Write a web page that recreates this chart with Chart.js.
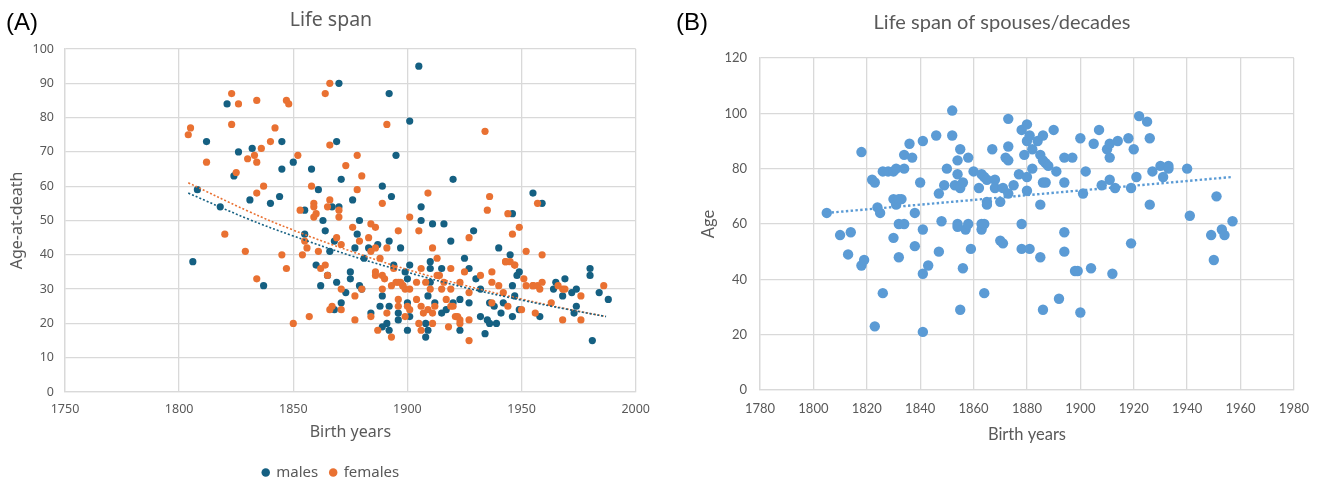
<!DOCTYPE html>
<html>
<head>
<meta charset="utf-8">
<script src="https://cdn.jsdelivr.net/npm/chart.js@4.4.0/dist/chart.umd.min.js"></script>
<style>
  body { margin: 0; background: #fff; }
  .panel { position: absolute; top: 0; width: 660px; height: 481px; }
  .tag { position: absolute; top: 8px; font-size: 24px; color: #000; font-family: "Liberation Sans", Arial, sans-serif; }
</style>
</head>
<body>
<div class="panel" style="left:0">
  <canvas id="lifeSpanChart" width="660" height="481"></canvas>
  <div class="tag" style="left:6px">(A)</div>
</div>
<div class="panel" style="left:660px">
  <canvas id="spousesChart" width="660" height="481"></canvas>
  <div class="tag" style="left:16px">(B)</div>
</div>
<script>
// panel A - birth year / age at death
const maleYears = [1808, 1806, 1812, 1818, 1821, 1824, 1826, 1831, 1832, 1837, 1840, 1844, 1845, 1845, 1850,
  1855, 1855, 1858, 1861, 1860, 1863, 1864, 1862, 1865, 1866, 1867, 1868, 1869, 1870, 1869, 1870, 1871, 1871,
  1873, 1868, 1875, 1875, 1876, 1877, 1878, 1879, 1879, 1881, 1880, 1883, 1884, 1887, 1889, 1889, 1892, 1892,
  1893, 1895, 1897, 1888, 1889, 1891, 1892, 1892, 1894, 1896, 1896, 1899, 1900, 1900, 1901, 1901, 1900, 1901,
  1905, 1906, 1906, 1908, 1908, 1909, 1909, 1910, 1910, 1910, 1911, 1912, 1915, 1916, 1915, 1917, 1919, 1920,
  1920, 1923, 1923, 1925, 1927, 1927, 1929, 1930, 1932, 1932, 1934, 1935, 1936, 1936, 1938, 1939, 1940, 1941,
  1942, 1945, 1946, 1946, 1946, 1947, 1948, 1949, 1949, 1955, 1958, 1959, 1964, 1965, 1968, 1969, 1972, 1973,
  1974, 1974, 1980, 1980, 1981, 1984, 1988];
const maleAges = [59, 38, 73, 54, 84, 63, 70, 56, 71, 31, 55, 57, 73, 65, 67,
  53, 46, 65, 59, 37, 50, 47, 31, 34, 41, 54, 44, 73, 90, 32, 54, 62, 26,
  29, 24, 35, 33, 56, 42, 46, 50, 31, 39, 30, 42, 23, 43, 60, 28, 87, 44,
  57, 69, 42, 25, 19, 20, 18, 25, 37, 23, 21, 35, 26, 33, 79, 37, 18, 22,
  95, 54, 50, 20, 16, 18, 28, 38, 36, 32, 49, 26, 36, 49, 23, 24, 44, 62,
  26, 27, 18, 39, 36, 26, 47, 33, 22, 30, 17, 21, 20, 26, 25, 20, 42, 23,
  26, 40, 52, 31, 22, 28, 34, 35, 24, 58, 22, 55, 30, 32, 28, 33, 29, 23,
  30, 25, 36, 34, 15, 29, 27];

const femaleYears = [1804, 1805, 1812, 1820, 1823, 1823, 1825, 1826, 1829, 1830, 1833, 1834, 1834, 1834, 1834,
  1836, 1837, 1840, 1842, 1845, 1847, 1848, 1847, 1850, 1852, 1853, 1855, 1856, 1854, 1857, 1858, 1859, 1859,
  1859, 1860, 1861, 1862, 1864, 1864, 1865, 1866, 1866, 1866, 1865, 1866, 1867, 1869, 1870, 1870, 1871, 1871,
  1871, 1873, 1876, 1877, 1877, 1878, 1878, 1879, 1880, 1880, 1883, 1884, 1884, 1884, 1886, 1886, 1886, 1887,
  1888, 1889, 1889, 1891, 1891, 1890, 1891, 1893, 1893, 1894, 1895, 1896, 1896, 1897, 1898, 1899, 1896, 1896,
  1899, 1900, 1901, 1901, 1901, 1904, 1904, 1905, 1906, 1905, 1906, 1906, 1907, 1908, 1909, 1909, 1910, 1911,
  1911, 1911, 1913, 1913, 1912, 1915, 1916, 1917, 1918, 1919, 1919, 1919, 1920, 1921, 1922, 1923, 1923, 1923,
  1925, 1927, 1927, 1927, 1927, 1932, 1934, 1935, 1936, 1937, 1937, 1937, 1940, 1942, 1943, 1944, 1944, 1945,
  1946, 1947, 1949, 1950, 1951, 1952, 1952, 1955, 1956, 1957, 1957, 1958, 1959, 1959, 1963, 1966, 1968, 1968,
  1969, 1976, 1976, 1986, 1886, 1889, 1943, 1947, 1955, 1898, 1914];
const femaleAges = [75, 77, 67, 46, 87, 78, 64, 84, 41, 68, 69, 85, 67, 58, 33,
  71, 60, 73, 77, 40, 85, 84, 36, 20, 69, 53, 44, 42, 40, 22, 60, 55, 54,
  51, 52, 41, 36, 87, 37, 34, 90, 72, 56, 54, 24, 25, 45, 53, 51, 30, 43,
  24, 66, 48, 28, 21, 69, 59, 44, 63, 30, 45, 49, 41, 22, 42, 48, 35, 18,
  39, 30, 55, 78, 42, 33, 23, 16, 31, 36, 32, 47, 32, 32, 31, 30, 25, 27,
  22, 25, 51, 30, 24, 32, 27, 47, 36, 20, 18, 25, 23, 32, 58, 24, 30, 20,
  42, 23, 39, 34, 25, 30, 32, 27, 19, 36, 30, 25, 25, 22, 22, 20, 32, 21,
  35, 29, 21, 15, 45, 34, 76, 53, 57, 35, 32, 26, 31, 29, 38, 25, 52, 38,
  46, 37, 48, 24, 33, 41, 31, 31, 23, 55, 31, 30, 40, 32, 26, 31, 21, 30,
  30, 21, 28, 31, 34, 34, 38, 37, 31, 31, 34];

// dotted trendlines
const trendYears = [1804, 1830, 1850, 1875, 1900, 1925, 1950, 1970, 1987];
const maleTrend = [58, 50.5, 45.5, 39.8, 34.9, 30.5, 26.8, 24.1, 22];
const femaleTrend = [61, 52.8, 47.2, 41.1, 35.7, 31.1, 27.1, 24.2, 22];

// panel B - spouses
const spouseYears = [1805, 1810, 1814, 1813, 1818, 1818, 1819, 1822, 1823, 1823, 1824, 1825, 1826, 1826, 1828,
  1830, 1831, 1830, 1831, 1832, 1833, 1830, 1832, 1834, 1832, 1834, 1834, 1836, 1837, 1838, 1838, 1840, 1841,
  1841, 1841, 1841, 1843, 1846, 1847, 1847, 1848, 1849, 1850, 1852, 1852, 1853, 1854, 1854, 1854, 1854, 1855,
  1855, 1855, 1856, 1856, 1857, 1858, 1858, 1859, 1860, 1862, 1863, 1863, 1863, 1864, 1864, 1864, 1865, 1865,
  1865, 1867, 1868, 1868, 1870, 1870, 1871, 1871, 1872, 1873, 1873, 1873, 1873, 1875, 1877, 1878, 1878, 1878,
  1879, 1880, 1880, 1880, 1880, 1881, 1881, 1882, 1882, 1884, 1885, 1885, 1885, 1886, 1886, 1886, 1886, 1887,
  1887, 1888, 1890, 1891, 1892, 1894, 1894, 1894, 1894, 1897, 1898, 1899, 1900, 1900, 1901, 1902, 1904, 1905,
  1907, 1908, 1910, 1911, 1911, 1911, 1912, 1913, 1914, 1918, 1919, 1919, 1920, 1921, 1922, 1925, 1926, 1926,
  1927, 1930, 1931, 1933, 1933, 1940, 1941, 1949, 1950, 1951, 1953, 1954, 1957];
const spouseAges = [64, 56, 57, 49, 86, 45, 47, 76, 75, 23, 66, 64, 35, 79, 79,
  79, 80, 69, 67, 69, 69, 55, 60, 60, 48, 85, 80, 89, 84, 64, 52, 75, 90,
  58, 42, 21, 45, 92, 71, 50, 61, 74, 80, 101, 92, 74, 83, 78, 60, 59, 87,
  73, 29, 75, 44, 58, 84, 60, 51, 79, 73, 78, 60, 58, 77, 60, 35, 76, 68,
  67, 87, 76, 73, 68, 54, 53, 73, 84, 83, 88, 98, 71, 74, 78, 94, 60, 51,
  85, 96, 90, 77, 72, 92, 51, 87, 80, 90, 85, 67, 48, 83, 92, 75, 29, 82,
  75, 81, 94, 79, 33, 84, 75, 57, 50, 84, 43, 43, 91, 28, 71, 79, 44, 89,
  94, 74, 87, 89, 84, 76, 42, 73, 90, 91, 73, 53, 87, 77, 99, 97, 91, 67,
  79, 81, 77, 81, 80, 80, 63, 56, 47, 70, 58, 56, 61];

const spouseTrendYears = [1805, 1957];
const spouseTrend = [64, 77];

const MALE = '#156082';
const FEMALE = '#E97132';
const SPOUSE = '#5B9BD5';
const TXT = '#595959';
const GRID = '#d9d9d9';

function toPoints(xs, ys) {
  return xs.map((x, i) => ({ x: x, y: ys[i] }));
}

const plain = v => String(v);

new Chart(document.getElementById('lifeSpanChart'), {
  type: 'scatter',
  data: {
    datasets: [
      { label: 'males', data: toPoints(maleYears, maleAges), backgroundColor: MALE, borderColor: MALE,
        pointRadius: 3.6, borderWidth: 0, order: 2 },
      { label: 'females', data: toPoints(femaleYears, femaleAges), backgroundColor: FEMALE, borderColor: FEMALE,
        pointRadius: 3.6, borderWidth: 0, order: 1 },
      { label: 'trend males', type: 'line', data: toPoints(trendYears, maleTrend), borderColor: MALE,
        borderWidth: 1.6, borderDash: [2, 2], pointRadius: 0, fill: false, tension: 0.4, order: 0 },
      { label: 'trend females', type: 'line', data: toPoints(trendYears, femaleTrend), borderColor: FEMALE,
        borderWidth: 1.6, borderDash: [2, 2], pointRadius: 0, fill: false, tension: 0.4, order: 0 }
    ]
  },
  options: {
    responsive: false,
    animation: false,
    layout: { padding: { left: 16, right: 14, top: 0, bottom: -9 } },
    plugins: {
      tooltip: { enabled: false },
      title: {
        display: true, text: 'Life span', color: TXT,
        font: { family: 'Noto Sans', size: 19.5, weight: 'normal' },
        padding: { top: 9, bottom: 16.6 }
      },
      legend: {
        position: 'bottom',
        labels: {
          color: TXT, font: { family: 'Noto Sans', size: 15 },
          usePointStyle: true, pointStyle: 'circle', boxWidth: 6, boxHeight: 6, padding: 12,
          filter: item => !item.text.startsWith('trend'),
          sort: (a, b) => a.datasetIndex - b.datasetIndex
        }
      }
    },
    scales: {
      x: {
        type: 'linear', min: 1750, max: 2000,
        ticks: { stepSize: 50, callback: plain, color: TXT, font: { family: 'Noto Sans', size: 12.5 }, padding: 10 },
        grid: { color: GRID, lineWidth: 1.3, drawTicks: false },
        border: { color: GRID, width: 1.3 },
        title: { display: true, text: 'Birth years', color: TXT, font: { family: 'Noto Sans', size: 16 }, padding: { top: 4, bottom: 10.5 } },
        afterFit: s => { s.height = 61; }
      },
      y: {
        min: 0, max: 100,
        ticks: { stepSize: 10, color: TXT, font: { family: 'Noto Sans', size: 12.5 }, padding: 11 },
        grid: { color: GRID, lineWidth: 1.3, drawTicks: false },
        border: { color: GRID, width: 1.3 },
        title: { display: true, text: 'Age-at-death', color: TXT, font: { family: 'Noto Sans', size: 16 }, padding: { top: -8, bottom: 4 } },
        afterFit: s => { s.width = 49; }
      }
    }
  }
});

new Chart(document.getElementById('spousesChart'), {
  type: 'scatter',
  data: {
    datasets: [
      { label: 'Age', data: toPoints(spouseYears, spouseAges), backgroundColor: SPOUSE, borderColor: SPOUSE,
        pointRadius: 5.2, borderWidth: 0, order: 1 },
      { label: 'trend', type: 'line', data: toPoints(spouseTrendYears, spouseTrend), borderColor: SPOUSE,
        borderWidth: 2.4, borderDash: [2.4, 2.4], pointRadius: 0, fill: false, order: 0 }
    ]
  },
  options: {
    responsive: false,
    animation: false,
    layout: { padding: { left: 48, right: 24, top: 0, bottom: 32 } },
    plugins: {
      tooltip: { enabled: false },
      legend: { display: false },
      title: {
        display: true, text: 'Life span of spouses/decades', color: TXT,
        font: { family: 'Lato', size: 20, weight: 'normal' },
        padding: { top: 11, bottom: 23 }
      }
    },
    scales: {
      x: {
        type: 'linear', min: 1780, max: 1980,
        ticks: { stepSize: 20, callback: plain, color: TXT, font: { family: 'Lato', size: 13 }, padding: 11 },
        grid: { color: GRID, lineWidth: 1.3, drawTicks: false },
        border: { color: GRID, width: 1.3 },
        title: { display: true, text: 'Birth years', color: TXT, font: { family: 'Lato', size: 16.5 }, padding: { top: 4, bottom: 4 } },
        afterFit: s => { s.height = 59; }
      },
      y: {
        min: 0, max: 120,
        ticks: { stepSize: 20, color: TXT, font: { family: 'Lato', size: 13 }, padding: 13 },
        grid: { color: GRID, lineWidth: 1.3, drawTicks: false },
        border: { color: GRID, width: 1.3 },
        title: { display: true, text: 'Age', color: TXT, font: { family: 'Lato', size: 16.5 }, padding: { top: -9, bottom: 4 } },
        afterFit: s => { s.width = 52; }
      }
    }
  }
});
</script>
</body>
</html>
